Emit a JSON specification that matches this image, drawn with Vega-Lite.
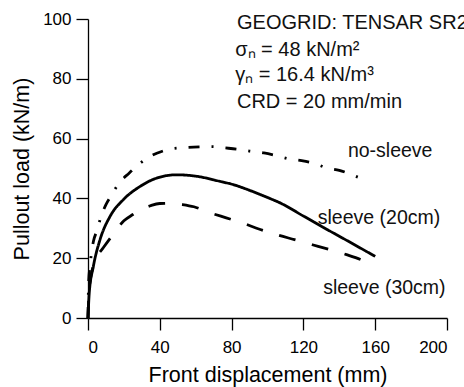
{
  "$schema": "https://vega.github.io/schema/vega-lite/v6.json",
  "width": 359,
  "height": 299,
  "autosize": {"type": "none"},
  "padding": {"left": 88, "top": 19, "right": 17, "bottom": 69},
  "background": "white",
  "config": {
    "font": "Liberation Sans",
    "view": {"stroke": null},
    "axis": {
      "grid": false,
      "domainColor": "#000",
      "domainWidth": 1.3,
      "tickColor": "#000",
      "tickWidth": 1.3,
      "labelColor": "#000",
      "titleColor": "#000",
      "labelFont": "Liberation Sans",
      "titleFont": "Liberation Sans",
      "labelFontSize": 17,
      "titleFontSize": 21.5,
      "titleFontWeight": "normal"
    },
    "text": {"align": "left", "baseline": "middle", "fontSize": 19.5, "color": "#111", "font": "Liberation Sans"}
  },
  "layer": [
    {
      "data": {
        "values": [
          {"series": "sleeve (20cm)", "disp": 0, "load": 0},
          {"series": "sleeve (20cm)", "disp": 0.7, "load": 8.4},
          {"series": "sleeve (20cm)", "disp": 3, "load": 17.3},
          {"series": "sleeve (20cm)", "disp": 6.7, "load": 26.2},
          {"series": "sleeve (20cm)", "disp": 12.3, "load": 34},
          {"series": "sleeve (20cm)", "disp": 19.7, "load": 39.6},
          {"series": "sleeve (20cm)", "disp": 29, "load": 44},
          {"series": "sleeve (20cm)", "disp": 38.3, "load": 46.8},
          {"series": "sleeve (20cm)", "disp": 49.4, "load": 47.9},
          {"series": "sleeve (20cm)", "disp": 60.5, "load": 47.4},
          {"series": "sleeve (20cm)", "disp": 73.5, "load": 45.7},
          {"series": "sleeve (20cm)", "disp": 81, "load": 44.6},
          {"series": "sleeve (20cm)", "disp": 90, "load": 42.7},
          {"series": "sleeve (20cm)", "disp": 100, "load": 40.3},
          {"series": "sleeve (20cm)", "disp": 107, "load": 38.5},
          {"series": "sleeve (20cm)", "disp": 120, "load": 34.1},
          {"series": "sleeve (20cm)", "disp": 133.5, "load": 29.5},
          {"series": "sleeve (20cm)", "disp": 147, "load": 25},
          {"series": "sleeve (20cm)", "disp": 160, "load": 20.6},

          {"series": "sleeve (30cm)", "disp": 0, "load": 0},
          {"series": "sleeve (30cm)", "disp": 0.5, "load": 8},
          {"series": "sleeve (30cm)", "disp": 1.5, "load": 13.5},
          {"series": "sleeve (30cm)", "disp": 3, "load": 17.5},
          {"series": "sleeve (30cm)", "disp": 5, "load": 20.5},
          {"series": "sleeve (30cm)", "disp": 8.5, "load": 23.5},
          {"series": "sleeve (30cm)", "disp": 14, "load": 28},
          {"series": "sleeve (30cm)", "disp": 20, "load": 32.5},
          {"series": "sleeve (30cm)", "disp": 25, "load": 34.6},
          {"series": "sleeve (30cm)", "disp": 30, "load": 36.4},
          {"series": "sleeve (30cm)", "disp": 35, "load": 37.6},
          {"series": "sleeve (30cm)", "disp": 40, "load": 38.3},
          {"series": "sleeve (30cm)", "disp": 47, "load": 38.4},
          {"series": "sleeve (30cm)", "disp": 52, "load": 38},
          {"series": "sleeve (30cm)", "disp": 59, "load": 37.2},
          {"series": "sleeve (30cm)", "disp": 68, "load": 35.2},
          {"series": "sleeve (30cm)", "disp": 77, "load": 33.5},
          {"series": "sleeve (30cm)", "disp": 86, "load": 31.8},
          {"series": "sleeve (30cm)", "disp": 96, "load": 29.6},
          {"series": "sleeve (30cm)", "disp": 105, "load": 27.9},
          {"series": "sleeve (30cm)", "disp": 115, "load": 26.2},
          {"series": "sleeve (30cm)", "disp": 125, "load": 24.5},
          {"series": "sleeve (30cm)", "disp": 135, "load": 22.8},
          {"series": "sleeve (30cm)", "disp": 144, "load": 21.2},
          {"series": "sleeve (30cm)", "disp": 154, "load": 19},
          {"series": "sleeve (30cm)", "disp": 158, "load": 17.8},

          {"series": "no-sleeve", "disp": 0, "load": 0},
          {"series": "no-sleeve", "disp": 0.3, "load": 11},
          {"series": "no-sleeve", "disp": 1, "load": 17},
          {"series": "no-sleeve", "disp": 1.8, "load": 21},
          {"series": "no-sleeve", "disp": 3, "load": 25.6},
          {"series": "no-sleeve", "disp": 5, "load": 29.2},
          {"series": "no-sleeve", "disp": 7.2, "load": 33.8},
          {"series": "no-sleeve", "disp": 10, "load": 37.9},
          {"series": "no-sleeve", "disp": 13, "load": 41},
          {"series": "no-sleeve", "disp": 17.4, "load": 45.2},
          {"series": "no-sleeve", "disp": 23, "load": 48.5},
          {"series": "no-sleeve", "disp": 27.5, "load": 51},
          {"series": "no-sleeve", "disp": 33.6, "load": 53.7},
          {"series": "no-sleeve", "disp": 41, "load": 55.7},
          {"series": "no-sleeve", "disp": 46.6, "load": 56.6},
          {"series": "no-sleeve", "disp": 55, "load": 57},
          {"series": "no-sleeve", "disp": 62, "load": 57.2},
          {"series": "no-sleeve", "disp": 69, "load": 57.3},
          {"series": "no-sleeve", "disp": 76, "load": 56.9},
          {"series": "no-sleeve", "disp": 84, "load": 56.4},
          {"series": "no-sleeve", "disp": 90, "load": 55.8},
          {"series": "no-sleeve", "disp": 98, "load": 55.2},
          {"series": "no-sleeve", "disp": 105, "load": 54.3},
          {"series": "no-sleeve", "disp": 112, "load": 53.2},
          {"series": "no-sleeve", "disp": 119, "load": 52.6},
          {"series": "no-sleeve", "disp": 126.5, "load": 51.6},
          {"series": "no-sleeve", "disp": 133, "load": 50.2},
          {"series": "no-sleeve", "disp": 140, "load": 49.4},
          {"series": "no-sleeve", "disp": 147, "load": 47.9},
          {"series": "no-sleeve", "disp": 152, "load": 46.7}
        ]
      },
      "mark": {"type": "line", "interpolate": "monotone", "color": "#000", "strokeWidth": 2.8, "strokeCap": "butt"},
      "encoding": {
        "x": {
          "field": "disp",
          "type": "quantitative",
          "scale": {"domain": [0, 200], "nice": false},
          "axis": {
            "title": "Front displacement (mm)",
            "values": [0, 20, 40, 60, 80, 100, 120, 140, 160, 180, 200],
            "labelExpr": "datum.value % 40 === 0 ? datum.label : ''",
            "tickSize": {"condition": {"test": "datum.value % 40 === 0", "value": 12}, "value": 6},
            "labelPadding": 9,
            "titlePadding": 9
          }
        },
        "y": {
          "field": "load",
          "type": "quantitative",
          "scale": {"domain": [0, 100], "nice": false},
          "axis": {
            "title": "Pullout load (kN/m)",
            "values": [0, 10, 20, 30, 40, 50, 60, 70, 80, 90, 100],
            "labelExpr": "datum.value % 20 === 0 ? datum.label : ''",
            "tickSize": {"condition": {"test": "datum.value % 20 === 0", "value": 12}, "value": 6},
            "labelPadding": 5,
            "titlePadding": 9
          }
        },
        "detail": {"field": "series"},
        "strokeDash": {
          "field": "series",
          "type": "nominal",
          "scale": {
            "domain": ["sleeve (20cm)", "sleeve (30cm)", "no-sleeve"],
            "range": [[1, 0], [17, 17], [11, 12, 2, 12]]
          },
          "legend": null
        }
      }
    },
    {
      "data": {"values": [{}]},
      "mark": {"type": "text", "fontSize": 20},
      "encoding": {"x": {"datum": 83}, "y": {"datum": 98.8}, "text": {"value": "GEOGRID: TENSAR SR2"}}
    },
    {
      "data": {"values": [{}]},
      "mark": {"type": "text", "fontSize": 20},
      "encoding": {"x": {"datum": 82}, "y": {"datum": 89.6}, "text": {"value": "σₙ = 48 kN/m²"}}
    },
    {
      "data": {"values": [{}]},
      "mark": {"type": "text", "fontSize": 20},
      "encoding": {"x": {"datum": 82}, "y": {"datum": 81.2}, "text": {"value": "γₙ = 16.4 kN/m³"}}
    },
    {
      "data": {"values": [{}]},
      "mark": {"type": "text", "fontSize": 20},
      "encoding": {"x": {"datum": 83}, "y": {"datum": 72.4}, "text": {"value": "CRD = 20 mm/min"}}
    },
    {
      "data": {"values": [{}]},
      "mark": {"type": "text"},
      "encoding": {"x": {"datum": 144.8}, "y": {"datum": 56}, "text": {"value": "no-sleeve"}}
    },
    {
      "data": {"values": [{}]},
      "mark": {"type": "text"},
      "encoding": {"x": {"datum": 128}, "y": {"datum": 33.4}, "text": {"value": "sleeve (20cm)"}}
    },
    {
      "data": {"values": [{}]},
      "mark": {"type": "text"},
      "encoding": {"x": {"datum": 131}, "y": {"datum": 10.2}, "text": {"value": "sleeve (30cm)"}}
    }
  ]
}
